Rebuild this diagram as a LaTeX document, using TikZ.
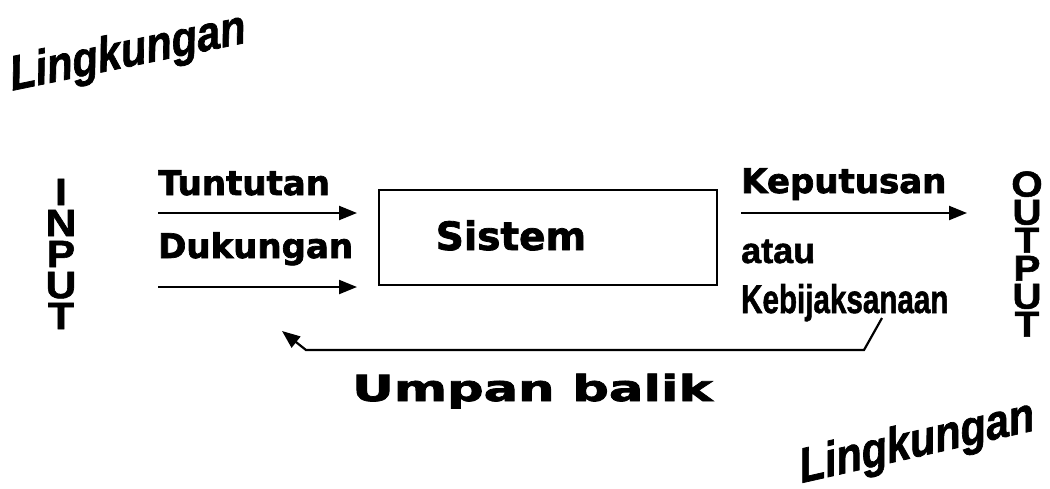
\documentclass[tikz,border=0pt]{standalone}
\usepackage{fontspec}
\setmainfont{Liberation Sans}
\newfontfamily\widefont{DejaVu Sans}[BoldFeatures={FakeBold=2}]
\newfontfamily\heavyfont{Liberation Sans}[BoldFeatures={FakeBold=1.5}, BoldItalicFeatures={FakeBold=1.5}]
\usetikzlibrary{arrows.meta}
\begin{document}
\begin{tikzpicture}[x=1pt,y=-1pt,
  lbl/.style={inner sep=0pt, anchor=base west, font=\widefont\bfseries\fontsize{34}{38}\selectfont},
  plain/.style={inner sep=0pt, anchor=base west, font=\heavyfont\bfseries\fontsize{36}{40}\selectfont},
  flow/.style={line width=2.2pt, -{Triangle[length=18pt,width=14pt]}},
  env/.style={inner sep=0pt, font=\heavyfont\bfseries\itshape\fontsize{49}{52}\selectfont, xscale=0.86},
  stack/.style={inner sep=0pt, align=center, font=\heavyfont\bfseries\fontsize{38}{31}\selectfont, xscale=1.12},
  sysbox/.style={draw, line width=2.2pt, minimum width=338pt, minimum height=95pt, inner sep=0pt}
]
\useasboundingbox[fill=white] (0,0) rectangle (1050,488);

% environment labels
\node[env, rotate=10] (envtop) at (128,54) {Lingkungan};
\node[env, rotate=11] (envbot) at (917,444) {Lingkungan};

% input and output columns
\node[stack] (input) at (61,254) {I\\N\\P\\U\\T};
\node[stack, font=\heavyfont\bfseries\fontsize{36}{28}\selectfont] (output) at (1027,254) {O\\U\\T\\P\\U\\T};

% the system
\node[sysbox] (sys) at (548,237.5) {};
\node[inner sep=0pt, anchor=base, font=\widefont\bfseries\fontsize{39}{42}\selectfont] (sistem) at (511,250) {Sistem};

% inputs
\node[lbl] (tuntutan) at (158,195) {Tuntutan};
\node[lbl] (dukungan) at (158,258) {Dukungan};
\coordinate (in1s) at (158,213);
\coordinate (in1e) at (357,213);
\coordinate (in2s) at (158,287);
\coordinate (in2e) at (357,287);
\draw[flow] (in1s) -- (in1e);
\draw[flow] (in2s) -- (in2e);

% outputs
\node[lbl] (keputusan) at (741,193) {Keputusan};
\node[plain] (atau) at (741,263) {atau};
\node[plain, font=\heavyfont\bfseries\fontsize{40}{44}\selectfont, xscale=0.74] (kebijakan) at (741,313) {Kebijaksanaan};
\coordinate (outs) at (741,213);
\coordinate (oute) at (967,213);
\draw[flow] (outs) -- (oute);

% feedback loop
\coordinate (fb1) at (882,318);
\coordinate (fb2) at (864,350);
\coordinate (fb3) at (306,350);
\coordinate (fb4) at (282,331);
\draw[flow] (fb1) -- (fb2) -- (fb3) -- (fb4);
\node[lbl, font=\widefont\bfseries\fontsize{36}{40}\selectfont, xscale=1.42] (umpan) at (352,401) {Umpan balik};
\end{tikzpicture}
\end{document}
